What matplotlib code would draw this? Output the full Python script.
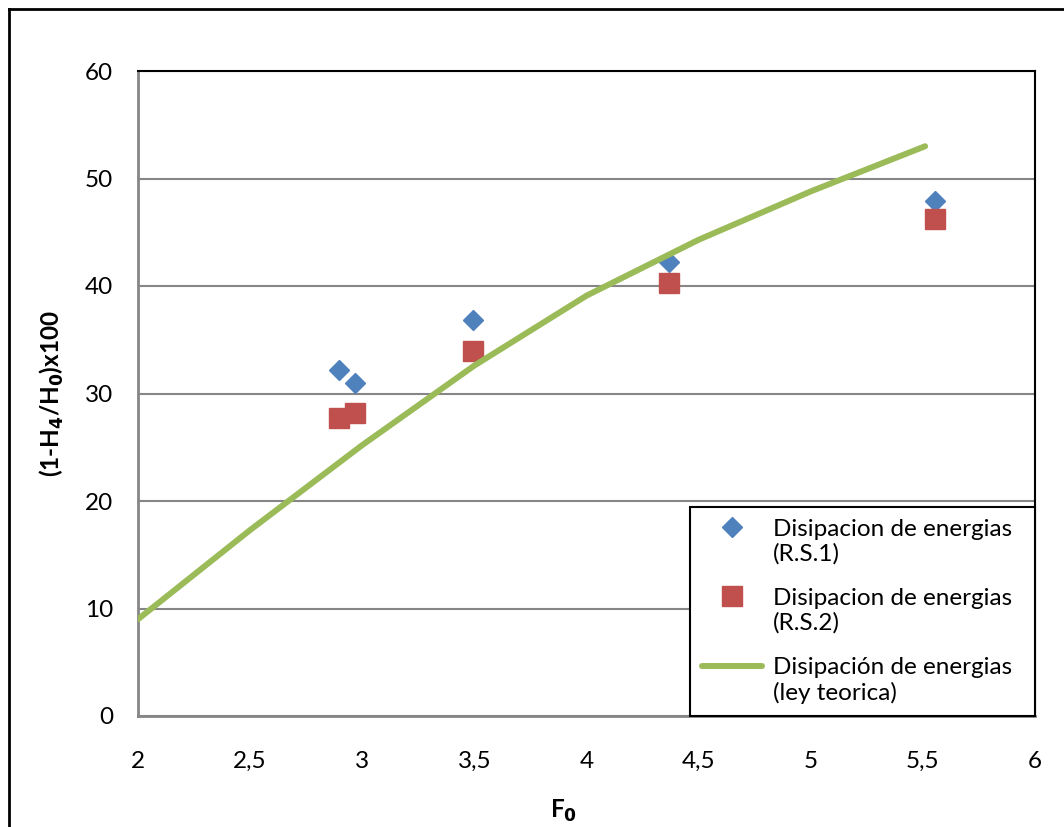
import numpy as np
import matplotlib.pyplot as plt
from matplotlib.lines import Line2D
from matplotlib.legend_handler import HandlerLine2D
from matplotlib.ticker import FuncFormatter, MultipleLocator

plt.rcParams['font.family'] = ['Lato', 'DejaVu Sans']

# measured points (R.S.1 and R.S.2)
f0_rs = [2.895, 2.966, 3.494, 4.367, 5.553]
dis_rs1 = [32.2, 31.0, 36.8, 42.2, 47.9]
dis_rs2 = [27.7, 28.2, 34.0, 40.3, 46.2]

# theoretical law
f0_ley = [2.0, 2.5, 3.0, 3.5, 4.0, 4.5, 5.0, 5.51]
dis_ley = [9.0, 17.3, 25.2, 32.6, 39.1, 44.3, 48.8, 53.0]

FS = 17.5


class TopHandler(HandlerLine2D):
    """Put the legend key next to the first line of a two-line label."""
    def create_artists(self, legend, orig_handle, xdescent, ydescent,
                       width, height, fontsize, trans):
        arts = super().create_artists(legend, orig_handle, xdescent, ydescent,
                                      width, height, fontsize, trans)
        for a in arts:
            a.set_ydata(np.asarray(a.get_ydata()) + 0.6 * fontsize)
        return arts


fig = plt.figure(figsize=(10.64, 8.27), dpi=100)
ax = fig.add_axes([138 / 1064, 1 - 716 / 827, (1035 - 138) / 1064, (716 - 71) / 827])

ax.plot(f0_rs, dis_rs1, linestyle='none', marker='D', markersize=10.2,
        color='#4F81BD', label='Disipacion de energias\n(R.S.1)', zorder=3)
ax.plot(f0_rs, dis_rs2, linestyle='none', marker='s', markersize=14,
        color='#C0504D', label='Disipacion de energias\n(R.S.2)', zorder=3)
ax.plot(f0_ley, dis_ley, color='#9BBB59', linewidth=4.3, solid_capstyle='round',
        solid_joinstyle='round', label='Disipación de energias\n(ley teorica)', zorder=4)

ax.set_xlim(2, 6)
ax.set_ylim(0, 60)
ax.xaxis.set_major_locator(MultipleLocator(0.5))
ax.yaxis.set_major_locator(MultipleLocator(10))
ax.xaxis.set_major_formatter(FuncFormatter(lambda v, p: f"{v:g}".replace('.', ',')))
ax.tick_params(axis='both', length=0, labelsize=FS)
ax.tick_params(axis='x', pad=25)
ax.tick_params(axis='y', pad=18)
ax.grid(axis='y', color='#868686', linewidth=1.5)
ax.set_axisbelow(True)

for side in ['left', 'bottom']:
    ax.spines[side].set_color('#868686')
    ax.spines[side].set_linewidth(2)
for side in ['top', 'right']:
    ax.spines[side].set_color('black')
    ax.spines[side].set_linewidth(1.5)

ax.set_xlabel('F$_\\mathbf{0}$', fontsize=FS, fontweight='bold')
ax.xaxis.set_label_coords(0.474, -0.127)
ax.set_ylabel('(1-H$_\\mathbf{4}$/H$_\\mathbf{0}$)x100', fontsize=FS, fontweight='bold')
ax.yaxis.set_label_coords(-0.096, 0.5)
ax.yaxis.label.set_va('center')

leg_x0 = (690 - 138) / 897
leg = ax.legend(loc='lower left', bbox_to_anchor=(leg_x0, 0.0, 1.0 - leg_x0, 0.5),
                mode='expand', borderaxespad=0,
                fontsize=FS, fancybox=False, framealpha=1, edgecolor='black',
                handlelength=2.45, handletextpad=0.45, labelspacing=0.95,
                borderpad=0.5, handler_map={Line2D: TopHandler()})
leg.get_frame().set_linewidth(1.5)
for t in leg.get_texts():
    t.set_linespacing(1.2)

# outer chart frame
fig.add_artist(Line2D([9 / 1064, 9 / 1064], [0, 1 - 9 / 827], color='black', linewidth=2))
fig.add_artist(Line2D([9 / 1064, 1], [1 - 9 / 827, 1 - 9 / 827], color='black', linewidth=2))

fig.savefig('out.png', dpi=100)
